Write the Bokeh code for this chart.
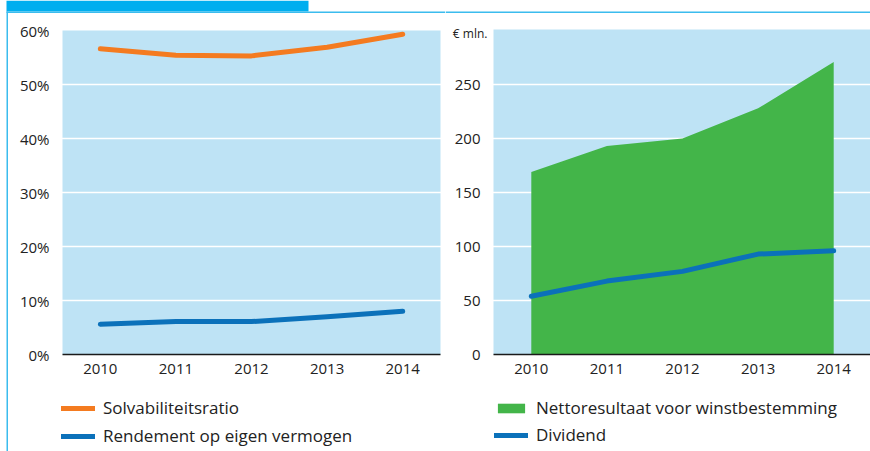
from bokeh.plotting import figure
from bokeh.models import (Range1d, FixedTicker, PrintfTickFormatter, Legend, LegendItem,
                          BoxAnnotation, Label)
from bokeh.layouts import row
from bokeh.embed import file_html
from bokeh.resources import INLINE

# ---- data ----
years = [2010, 2011, 2012, 2013, 2014]
solvabiliteitsratio = [56.6, 55.4, 55.3, 56.9, 59.3]          # %
rendement = [5.6, 6.1, 6.1, 7.0, 8.0]                          # %
nettoresultaat = [169, 193, 200, 228, 271]                     # € mln.
dividend = [54, 68, 77, 93, 96]                                # € mln.
left_ticks = [0, 10, 20, 30, 40, 50, 60]
right_ticks = [0, 50, 100, 150, 200, 250]
left_max = 60
right_max = 301

FONT = "Open Sans"
BG = "#BEE3F5"
ORANGE = "#F47B20"
BLUE = "#0B71BA"
GREEN = "#43B549"
HEADER = "#00AEEF"
RULE = "#3BBCEE"
TXT = "#222222"

H = 451
W1, W2 = 445, 425
X_STEP = 75.6          # px per year
BOTTOM_PX = 354        # page y of the zero line


def make_fig(width, frame_left, ymax, ytop_px):
    # whole canvas is the frame; ranges chosen so that the plotting box sits where wanted
    ky = (BOTTOM_PX - ytop_px) / ymax
    xr = Range1d(2009.5 - frame_left / X_STEP, 2009.5 + (width - frame_left) / X_STEP)
    yr = Range1d(-(H - BOTTOM_PX) / ky, BOTTOM_PX / ky)
    p = figure(width=width, height=H, output_backend="svg", toolbar_location=None,
               x_range=xr, y_range=yr, min_border=0)
    p.background_fill_color = "white"
    p.border_fill_color = "white"
    p.outline_line_color = None
    return p


def style(p, ticks, ymax, xmax):
    p.add_layout(BoxAnnotation(left=2009.5, right=xmax, bottom=0, top=ymax,
                               fill_color=BG, fill_alpha=1, line_color=None, level="image"))
    p.xgrid.visible = False
    p.ygrid.ticker = FixedTicker(ticks=[t for t in ticks if 0 < t < ymax])
    p.ygrid.grid_line_color = "white"
    p.ygrid.grid_line_width = 1.5
    p.xaxis.ticker = FixedTicker(ticks=years)
    p.yaxis.ticker = FixedTicker(ticks=ticks)
    p.xaxis.fixed_location = 0
    p.yaxis.fixed_location = 2009.5
    p.xaxis.bounds = (2009.5, xmax)
    for ax in (p.xaxis[0], p.yaxis[0]):
        ax.major_tick_line_color = None
        ax.minor_tick_line_color = None
        ax.major_label_text_font = FONT
        ax.major_label_text_font_size = "15px"
        ax.major_label_text_color = TXT
    p.xaxis.axis_line_color = "#1a1a1a"
    p.xaxis.axis_line_width = 1.5
    p.xaxis.major_label_standoff = 3
    p.yaxis.axis_line_color = None
    p.yaxis.major_label_standoff = 7


def legend(items, x, y, gh, lh=22):
    return Legend(items=items, location=(x, y), glyph_width=34, glyph_height=gh,
                  label_height=lh, spacing=5, padding=0, margin=0, border_line_color=None,
                  background_fill_alpha=0, label_text_font=FONT, label_text_font_size="17px",
                  label_standoff=8, label_text_color=TXT)


def canvas_box(p, l, r, t, b, color):
    p.add_layout(BoxAnnotation(left=l, right=r, top=t, bottom=b, left_units="canvas",
                               right_units="canvas", top_units="canvas", bottom_units="canvas",
                               fill_color=color, fill_alpha=1, line_color=None))


# ---- left chart ----
p1 = make_fig(W1, 62, left_max, 30)
style(p1, left_ticks, left_max, 2014.5)
p1.yaxis.formatter = PrintfTickFormatter(format="%d%%")

r_solv = p1.line(years, solvabiliteitsratio, line_color=ORANGE, line_width=5,
                 line_cap="round", line_join="round")
r_rend = p1.line(years, rendement, line_color=BLUE, line_width=5,
                 line_cap="round", line_join="round")

p1.add_layout(legend([LegendItem(label="Solvabiliteitsratio", renderers=[r_solv]),
                      LegendItem(label="Rendement op eigen vermogen", renderers=[r_rend])],
                     61, 4, 22))

# header decorations
canvas_box(p1, 6, 308, 0, 11, HEADER)
canvas_box(p1, 6, W1, 11, 12.5, RULE)
canvas_box(p1, 6, 7.5, 11, H, RULE)

# ---- right chart ----
p2 = make_fig(W2, 48, right_max, 29)
style(p2, right_ticks, right_max, 2020)

r_net = p2.varea(x=years, y1=0, y2=nettoresultaat, fill_color=GREEN, fill_alpha=1)
r_div = p2.line(years, dividend, line_color=BLUE, line_width=5,
                line_cap="round", line_join="round")

p2.add_layout(Label(x=2009.5, y=297, x_offset=-6, text="€ mln.", text_align="right",
                    text_baseline="middle", text_font=FONT, text_font_size="12px",
                    text_color=TXT))

p2.add_layout(legend([LegendItem(label="Nettoresultaat voor winstbestemming", renderers=[r_net])],
                     49, 32, 12, 12))
p2.add_layout(legend([LegendItem(label="Dividend", renderers=[r_div])],
                     49, 5, 22))

canvas_box(p2, 0, W2, 11, 12.5, RULE)

layout = row(p1, p2, spacing=0)

with open("out.html", "w") as f:
    f.write(file_html(layout, INLINE))
